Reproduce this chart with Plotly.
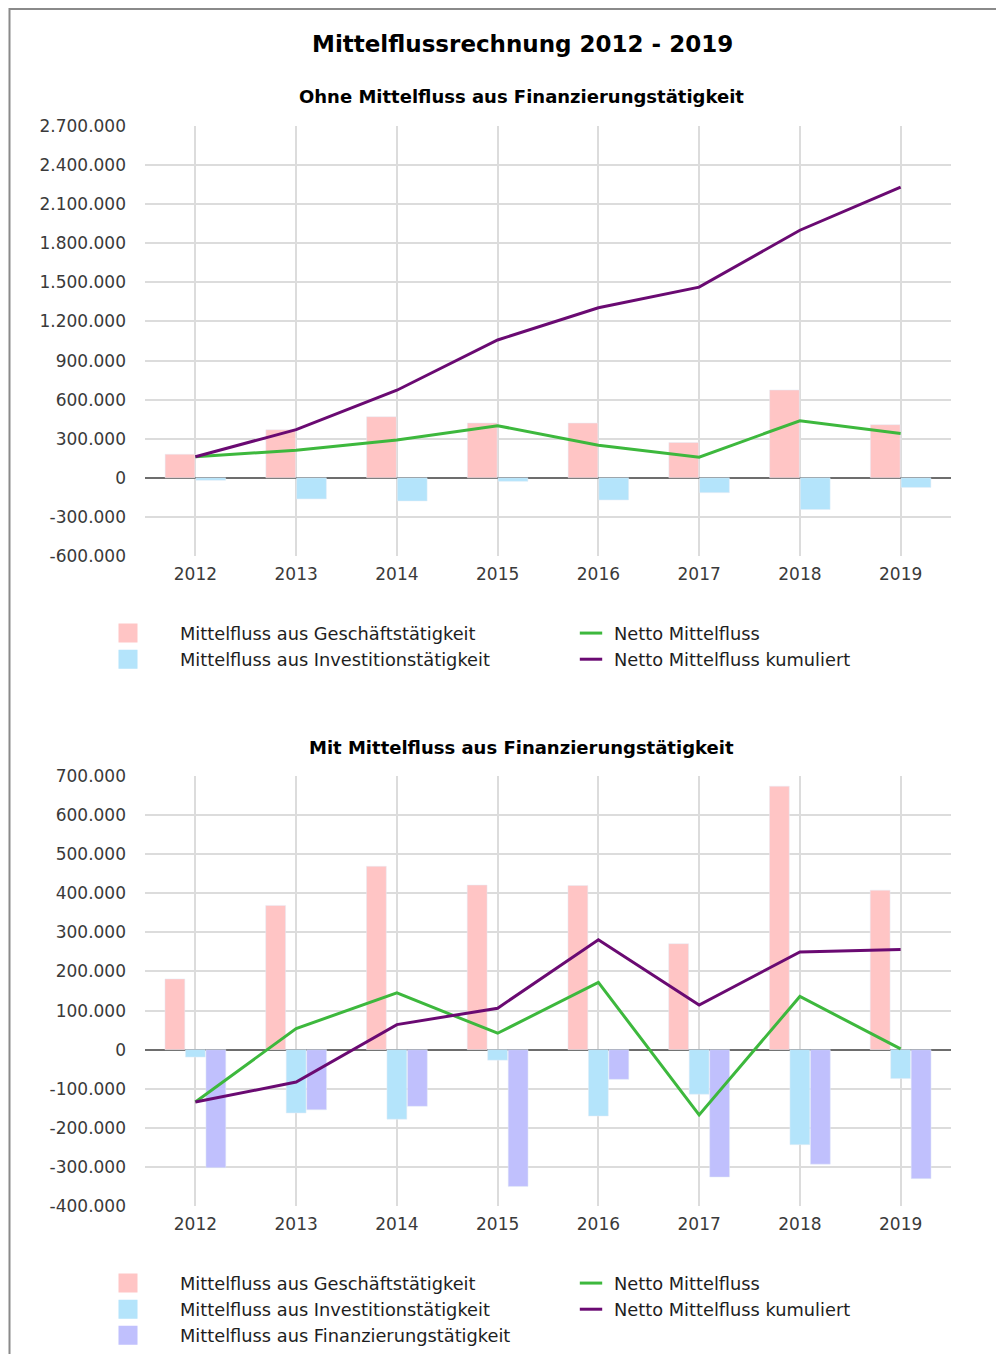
import plotly.graph_objects as go

# ---------------- data ----------------
years = ["2012", "2013", "2014", "2015", "2016", "2017", "2018", "2019"]
geschaeft = [181000, 369000, 469000, 421000, 420000, 271000, 674000, 408000]
investition = [-19000, -162000, -178000, -27000, -170000, -114000, -243000, -74000]
finanzierung = [-302000, -154000, -145000, -350000, -76000, -326000, -293000, -330000]
netto_ohne = [162000, 212000, 290000, 400000, 250000, 158000, 438000, 340000]
kum_ohne = [162000, 370000, 672000, 1058000, 1305000, 1463000, 1900000, 2230000]
netto_mit = [-134000, 54000, 145000, 42000, 172000, -167000, 136000, 2000]
kum_mit = [-134000, -83000, 64000, 106000, 281000, 114000, 250000, 256000]

yticks_top = [-600000, -300000, 0, 300000, 600000, 900000, 1200000, 1500000,
              1800000, 2100000, 2400000, 2700000]
yticks_bottom = [-400000, -300000, -200000, -100000, 0, 100000, 200000, 300000,
                 400000, 500000, 600000, 700000]

title_main = "Mittelflussrechnung 2012 - 2019"
title_top = "Ohne Mittelfluss aus Finanzierungstätigkeit"
title_bottom = "Mit Mittelfluss aus Finanzierungstätigkeit"
name_g = "Mittelfluss aus Geschäftstätigkeit"
name_i = "Mittelfluss aus Investitionstätigkeit"
name_f = "Mittelfluss aus Finanzierungstätigkeit"
name_n = "Netto Mittelfluss"
name_k = "Netto Mittelfluss kumuliert"

# ---------------- styles ----------------
C_G = "#ffc5c5"
C_I = "#b4e4fb"
C_F = "#c0c0fd"
C_N = "#3db83d"
C_K = "#6a0a72"
FONT = "DejaVu Sans"

W, H = 988, 1346


def px(x):
    return x / W


def py(y):
    return 1 - y / H


def de(v):
    return f"{v:,}".replace(",", ".")


fig = go.Figure()

# ---------------- subplot 1 ----------------
fig.add_trace(go.Bar(x=years, y=geschaeft, marker_color=C_G, showlegend=False,
                     xaxis="x", yaxis="y", name=name_g))
fig.add_trace(go.Bar(x=years, y=investition, marker_color=C_I, showlegend=False,
                     xaxis="x", yaxis="y", name=name_i))
fig.add_trace(go.Scatter(x=years, y=netto_ohne, mode="lines", line=dict(color=C_N, width=3),
                         showlegend=False, xaxis="x", yaxis="y", name=name_n))
fig.add_trace(go.Scatter(x=years, y=kum_ohne, mode="lines", line=dict(color=C_K, width=3),
                         showlegend=False, xaxis="x", yaxis="y", name=name_k))

# ---------------- subplot 2 ----------------
fig.add_trace(go.Bar(x=years, y=geschaeft, marker_color=C_G, showlegend=False,
                     xaxis="x2", yaxis="y2", name=name_g))
fig.add_trace(go.Bar(x=years, y=investition, marker_color=C_I, showlegend=False,
                     xaxis="x2", yaxis="y2", name=name_i))
fig.add_trace(go.Bar(x=years, y=finanzierung, marker_color=C_F, showlegend=False,
                     xaxis="x2", yaxis="y2", name=name_f))
fig.add_trace(go.Scatter(x=years, y=netto_mit, mode="lines", line=dict(color=C_N, width=3),
                         showlegend=False, xaxis="x2", yaxis="y2", name=name_n))
fig.add_trace(go.Scatter(x=years, y=kum_mit, mode="lines", line=dict(color=C_K, width=3),
                         showlegend=False, xaxis="x2", yaxis="y2", name=name_k))


# ---------------- legend entries ----------------
def sq(name, color, legend, xa, ya):
    return go.Scatter(x=[None], y=[None], mode="markers", name=name, legend=legend,
                      xaxis=xa, yaxis=ya, hoverinfo="skip",
                      marker=dict(symbol="square", size=16, color=color,
                                  line=dict(color=color, width=3)))


def ln(name, color, legend, xa, ya):
    return go.Scatter(x=[None], y=[None], mode="markers", name=name, legend=legend,
                      xaxis=xa, yaxis=ya, hoverinfo="skip",
                      marker=dict(symbol="line-ew", size=16, color=color,
                                  line=dict(color=color, width=3)))


fig.add_trace(sq(name_g, C_G, "legend", "x", "y"))
fig.add_trace(sq(name_i, C_I, "legend", "x", "y"))
fig.add_trace(ln(name_n, C_N, "legend2", "x", "y"))
fig.add_trace(ln(name_k, C_K, "legend2", "x", "y"))
fig.add_trace(sq(name_g, C_G, "legend3", "x2", "y2"))
fig.add_trace(sq(name_i, C_I, "legend3", "x2", "y2"))
fig.add_trace(sq(name_f, C_F, "legend3", "x2", "y2"))
fig.add_trace(ln(name_n, C_N, "legend4", "x2", "y2"))
fig.add_trace(ln(name_k, C_K, "legend4", "x2", "y2"))

# ---------------- axes ----------------
xdom = [px(137), px(943)]
grid = "#dcdcdc"
tickfont = dict(family=FONT, size=17, color="#3a3a3a")

xaxis_common = dict(type="category", range=[-0.5, 7.5], showgrid=True, gridcolor=grid,
                    gridwidth=2, showline=False, ticks="", tickfont=tickfont,
                    ticklabelstandoff=6, automargin=False, fixedrange=True, domain=xdom)
yaxis_common = dict(showgrid=True, gridcolor=grid, gridwidth=2, zeroline=True,
                    zerolinecolor="#6d6d6d", zerolinewidth=2, showline=False, ticks="",
                    tickfont=tickfont, ticklabelstandoff=18, automargin=False,
                    fixedrange=True)

legend_common = dict(font=dict(family=FONT, size=17.8, color="#1e1e1e"),
                     bgcolor="rgba(0,0,0,0)", borderwidth=0, orientation="v",
                     xanchor="left", yanchor="top", traceorder="normal")

fig.update_layout(
    width=W, height=H,
    margin=dict(l=0, r=0, t=0, b=0, pad=0),
    paper_bgcolor="white", plot_bgcolor="white",
    barmode="group", bargap=0.39, bargroupgap=0.03,
    separators=",.",
    xaxis=dict(**xaxis_common, anchor="y"),
    yaxis=dict(**yaxis_common, anchor="x", domain=[py(548), py(118)],
               range=[-600000, 2700000], tickmode="array", tickvals=yticks_top,
               ticktext=[de(v) for v in yticks_top]),
    xaxis2=dict(**xaxis_common, anchor="y2"),
    yaxis2=dict(**yaxis_common, anchor="x2", domain=[py(1198), py(768)],
                range=[-400000, 700000], tickmode="array", tickvals=yticks_bottom,
                ticktext=[de(v) for v in yticks_bottom]),
    legend=dict(**legend_common, x=px(68), y=py(607), itemwidth=94),
    legend2=dict(**legend_common, x=px(560), y=py(607), itemwidth=36),
    legend3=dict(**legend_common, x=px(68), y=py(1257), itemwidth=94),
    legend4=dict(**legend_common, x=px(560), y=py(1257), itemwidth=36),
    annotations=[
        dict(text=f"<b>{title_main}</b>", x=px(514), y=py(36), xref="paper", yref="paper",
             xanchor="center", yanchor="middle", showarrow=False,
             font=dict(family=FONT, size=23, color="#000000")),
        dict(text=f"<b>{title_top}</b>", x=px(513), y=py(89), xref="paper", yref="paper",
             xanchor="center", yanchor="middle", showarrow=False,
             font=dict(family=FONT, size=18, color="#000000")),
        dict(text=f"<b>{title_bottom}</b>", x=px(513), y=py(739), xref="paper", yref="paper",
             xanchor="center", yanchor="middle", showarrow=False,
             font=dict(family=FONT, size=18, color="#000000")),
    ],
    shapes=[
        dict(type="line", xref="paper", yref="paper", x0=px(1.5), x1=px(1.5), y0=0, y1=1,
             line=dict(color="#8a8a8a", width=2)),
        dict(type="line", xref="paper", yref="paper", x0=px(1.5), x1=1, y0=py(1), y1=py(1),
             line=dict(color="#8a8a8a", width=2)),
    ],
)

fig.write_html("out.html")
